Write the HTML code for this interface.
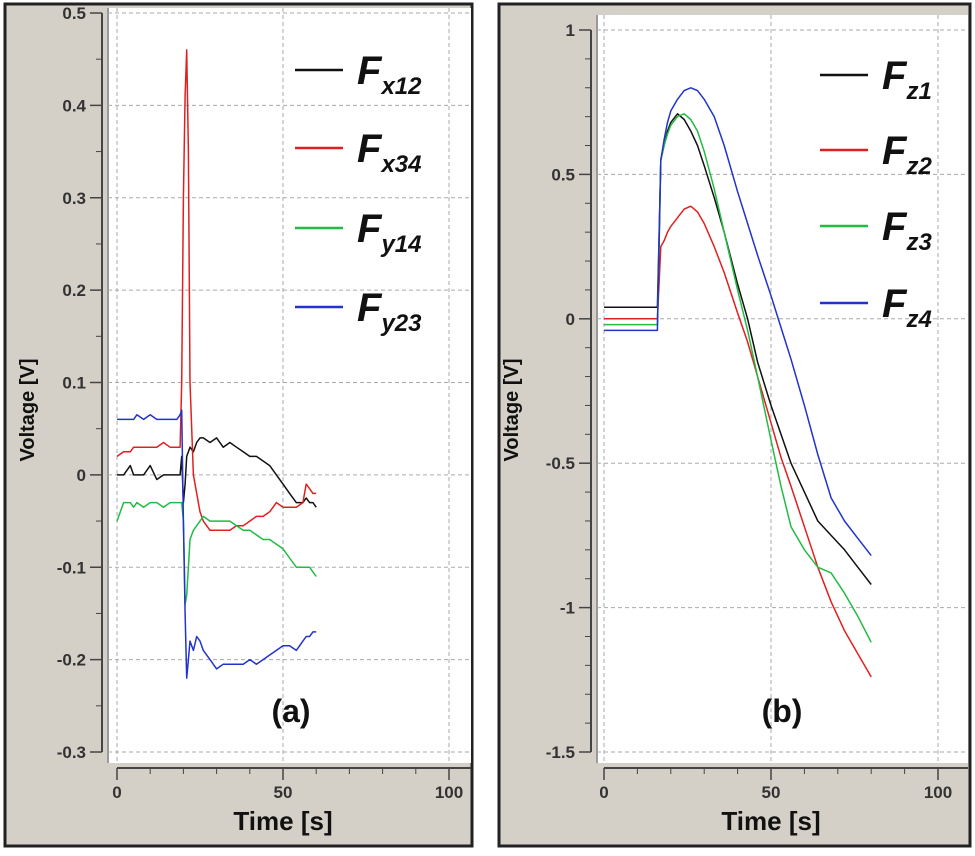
<!DOCTYPE html>
<html><head><meta charset="utf-8"><style>
body{margin:0;background:#fff;width:975px;height:851px;overflow:hidden;font-family:"Liberation Sans",sans-serif}
</style></head><body>
<svg id="svg" width="975" height="851" xmlns="http://www.w3.org/2000/svg"></svg>
<script>
// Panel (a) data
const tA = [0,2,4,5,6,8,10,12,14,16,18,19,19.5,20,20.5,21,21.5,22,23,24,25,26,28,30,32,34,36,38,40,42,44,46,48,50,52,54,56,57,58,59,60];
const fx12 = [0,0,0.01,0,0,0,0.01,-0.005,0,0,0,0,0.02,-0.03,-0.01,0.02,0.025,0.03,0.025,0.035,0.04,0.04,0.035,0.04,0.03,0.035,0.03,0.025,0.02,0.02,0.015,0.01,0,-0.01,-0.02,-0.03,-0.03,-0.025,-0.03,-0.03,-0.035];
const fx34 = [0.02,0.025,0.025,0.03,0.03,0.03,0.03,0.03,0.035,0.03,0.03,0.03,0.1,0.3,0.41,0.46,0.35,0.1,0,-0.02,-0.04,-0.05,-0.06,-0.06,-0.06,-0.06,-0.055,-0.055,-0.05,-0.045,-0.045,-0.04,-0.03,-0.035,-0.035,-0.035,-0.03,-0.01,-0.015,-0.02,-0.02];
const fy14 = [-0.05,-0.03,-0.03,-0.035,-0.03,-0.035,-0.03,-0.03,-0.035,-0.03,-0.03,-0.03,-0.03,-0.05,-0.14,-0.13,-0.1,-0.07,-0.06,-0.055,-0.05,-0.045,-0.05,-0.05,-0.05,-0.05,-0.055,-0.06,-0.06,-0.065,-0.07,-0.07,-0.075,-0.08,-0.09,-0.1,-0.1,-0.1,-0.1,-0.105,-0.11];
const fy23 = [0.06,0.06,0.06,0.06,0.065,0.06,0.065,0.06,0.06,0.06,0.06,0.065,0.07,-0.05,-0.15,-0.22,-0.2,-0.18,-0.19,-0.175,-0.18,-0.19,-0.2,-0.21,-0.205,-0.205,-0.205,-0.205,-0.2,-0.205,-0.2,-0.195,-0.19,-0.185,-0.185,-0.19,-0.18,-0.175,-0.175,-0.17,-0.17];
const yTicksA = [0.5,0.4,0.3,0.2,0.1,0,-0.1,-0.2,-0.3];
const yLabelsA = ["0.5","0.4","0.3","0.2","0.1","0","-0.1","-0.2","-0.3"];
// Panel (b) data
const tB = [0,4,8,12,15.5,16,17,18,19,20,22,24,26,28,30,33,36,40,43,46,50,53,56,60,64,68,72,76,80];
const fz1 = [0.04,0.04,0.04,0.04,0.04,0.04,0.55,0.6,0.65,0.68,0.71,0.69,0.65,0.6,0.53,0.42,0.3,0.12,0,-0.15,-0.3,-0.4,-0.5,-0.6,-0.7,-0.75,-0.8,-0.86,-0.92];
const fz2 = [0,0,0,0,0,0,0.25,0.27,0.3,0.32,0.35,0.38,0.39,0.37,0.33,0.25,0.16,0.02,-0.08,-0.2,-0.36,-0.48,-0.58,-0.72,-0.86,-0.98,-1.08,-1.16,-1.24];
const fz3 = [-0.02,-0.02,-0.02,-0.02,-0.02,-0.02,0.55,0.6,0.64,0.67,0.7,0.71,0.69,0.65,0.58,0.45,0.3,0.1,-0.04,-0.2,-0.42,-0.58,-0.72,-0.8,-0.86,-0.88,-0.95,-1.03,-1.12];
const fz4 = [-0.04,-0.04,-0.04,-0.04,-0.04,-0.04,0.55,0.62,0.68,0.72,0.76,0.79,0.8,0.79,0.76,0.7,0.6,0.44,0.33,0.22,0.08,-0.03,-0.14,-0.3,-0.47,-0.62,-0.7,-0.76,-0.82];
const yTicksB = [1,0.5,0,-0.5,-1,-1.5];
const yLabelsB = ["1","0.5","0","-0.5","-1","-1.5"];
const xTicks = [0,50,100];
const xLabels = ["0","50","100"];

const svg = document.getElementById('svg');
const NS = "http://www.w3.org/2000/svg";
function mk(tag, attrs, name, parent){
  const e = document.createElementNS(NS, tag);
  for (const k in attrs) e.setAttribute(k, attrs[k]);
  
  
  (parent||svg).appendChild(e);
  return e;
}

function panel(cfg){
  const g = mk('g', {}, cfg.name);
  // frame
  mk('rect', {x:cfg.fx, y:4, width:cfg.fw, height:842, fill:'#d4d0c8', stroke:'#222', 'stroke-width':3}, 'panel-frame', g);
  mk('rect', {x:cfg.px0, y:cfg.py0, width:cfg.px1-cfg.px0, height:cfg.py1-cfg.py0, fill:'#fff'}, 'plot-area', g);
  mk('line', {x1:cfg.px0, y1:cfg.py0, x2:cfg.px0, y2:cfg.py1, stroke:'#999', 'stroke-width':2}, 'plot-left-edge', g);
  const X = v => cfg.x0 + (v - 0) * (cfg.x100 - cfg.x0) / 100;
  const Y = v => cfg.ytop + (cfg.ymax - v) * (cfg.ybot - cfg.ytop) / (cfg.ymax - cfg.ymin);
  // grid
  cfg.yTicks.forEach((v,i)=>{
    mk('line',{x1:cfg.px0,x2:cfg.px1,y1:Y(v),y2:Y(v),stroke:'#aaa','stroke-dasharray':'4,3','stroke-width':1},'y-gridline',g);
    mk('line',{x1:cfg.ax-12,x2:cfg.ax,y1:Y(v),y2:Y(v),stroke:'#444','stroke-width':1.5},'y-tick',g);
    const t = mk('text',{x:cfg.ax-16,y:Y(v)+6,'text-anchor':'end','font-size':17,'font-weight':'bold',fill:'#333'},'y-tick-label',g);
    t.textContent = cfg.yLabels[i];
  });
  // minor y ticks
  for (let i=0;i<cfg.yTicks.length-1;i++){
    const a=cfg.yTicks[i], b=cfg.yTicks[i+1];
    for (let k=1;k<cfg.minorY;k++){
      const v=a+(b-a)*k/cfg.minorY;
      mk('line',{x1:cfg.ax-6,x2:cfg.ax,y1:Y(v),y2:Y(v),stroke:'#444','stroke-width':1},'y-minor-tick',g);
    }
  }
  mk('line',{x1:cfg.ax,x2:cfg.ax,y1:Y(cfg.ymax),y2:Y(cfg.ymin),stroke:'#444','stroke-width':2},'y-axis-line',g);
  xTicks.forEach((v,i)=>{
    mk('line',{x1:X(v),x2:X(v),y1:cfg.py0,y2:cfg.py1,stroke:'#aaa','stroke-dasharray':'4,3'},'x-gridline',g);
    mk('line',{x1:X(v),x2:X(v),y1:cfg.axy,y2:cfg.axy+12,stroke:'#444','stroke-width':1.5},'x-tick',g);
    const t=mk('text',{x:X(v),y:cfg.axy+30,'text-anchor':'middle','font-size':17,'font-weight':'bold',fill:'#333'},'x-tick-label',g);
    t.textContent=xLabels[i];
  });
  for (let v=10; v<110; v+=10){ if(v%50) mk('line',{x1:X(v),x2:X(v),y1:cfg.axy,y2:cfg.axy+6,stroke:'#444'},'x-minor-tick',g); }
  mk('line',{x1:X(0),x2:cfg.px1,y1:cfg.axy,y2:cfg.axy,stroke:'#444','stroke-width':2},'x-axis-line',g);
  const xt=mk('text',{x:X(50),y:cfg.axy+62,'text-anchor':'middle','font-size':26,'font-weight':'bold',fill:'#111'},'x-axis-title',g);
  xt.textContent='Time [s]';
  const yt=mk('text',{x:cfg.ylx,y:410,'text-anchor':'middle','font-size':20,'font-weight':'bold',fill:'#111',transform:`rotate(-90 ${cfg.ylx} 410)`},'y-axis-title',g);
  yt.textContent='Voltage [V]';
  // series
  cfg.series.forEach(s=>{
    const d = s.vals.map((v,i)=>(i?'L':'M')+X(cfg.t[i]).toFixed(1)+','+Y(v).toFixed(1)).join(' ');
    mk('path',{d, fill:'none', stroke:s.color,'stroke-width':1.5,'stroke-linejoin':'round'},'series-'+s.key,g);
  });
  // legend
  cfg.series.forEach((s,i)=>{
    const ly = cfg.legY[i];
    mk('line',{x1:cfg.legX,x2:cfg.legX+48,y1:ly,y2:ly,stroke:s.color,'stroke-width':2.5},'legend-swatch-'+s.key,g);
    const t=mk('text',{x:cfg.legX+62,y:ly+14,'font-size':40,'font-weight':'bold','font-style':'italic',fill:'#111'},'legend-entry-'+s.key,g);
    t.textContent='F';
    const sub=document.createElementNS(NS,'tspan');
    sub.setAttribute('font-size','24');sub.setAttribute('dy','10');
    sub.textContent=s.sub;
    t.appendChild(sub);
  });
  const lab=mk('text',{x:cfg.labX,y:722,'text-anchor':'middle','font-size':32,'font-weight':'bold',fill:'#111'},'panel-label',g);
  lab.textContent=cfg.label;
}

panel({name:'panel-a',fx:5,fw:467,px0:108,px1:471,py0:8,py1:763,ax:102,axy:768,
  x0:117,x100:449,ytop:13,ybot:752,ymax:0.5,ymin:-0.3,minorY:2,ylx:34,
  yTicks:yTicksA,yLabels:yLabelsA,t:tA,label:'(a)',labX:291,legX:295,legY:[70,148,228,307],
  series:[{key:'fx12',sub:'x12',vals:fx12,color:'#111'},{key:'fx34',sub:'x34',vals:fx34,color:'#e02020'},
          {key:'fy14',sub:'y14',vals:fy14,color:'#22bb44'},{key:'fy23',sub:'y23',vals:fy23,color:'#2233cc'}]});
panel({name:'panel-b',fx:499,fw:471,px0:597,px1:968,py0:15,py1:763,ax:591,axy:768,
  x0:604,x100:938,ytop:30,ybot:752,ymax:1,ymin:-1.5,minorY:5,ylx:518,
  yTicks:yTicksB,yLabels:yLabelsB,t:tB,label:'(b)',labX:782,legX:820,legY:[75,150,226,303],
  series:[{key:'fz1',sub:'z1',vals:fz1,color:'#111'},{key:'fz2',sub:'z2',vals:fz2,color:'#e02020'},
          {key:'fz3',sub:'z3',vals:fz3,color:'#22bb44'},{key:'fz4',sub:'z4',vals:fz4,color:'#2233cc'}]});
</script>
</body></html>
